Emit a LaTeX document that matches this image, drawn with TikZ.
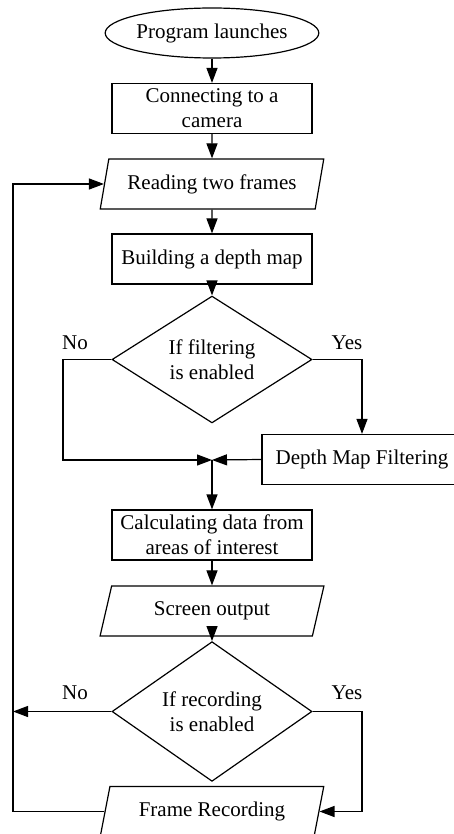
\documentclass[tikz,border=0pt]{standalone}
\usepackage{fontspec}
\setmainfont{Liberation Serif}
\usetikzlibrary{shapes.geometric,arrows.meta}
\begin{document}
\begin{tikzpicture}[x=1pt,y=-1pt,
  line width=1.2pt,
  arr/.style={-{Triangle[length=15pt,width=11pt]}},
  txt/.style={font=\fontsize{21}{25}\selectfont, align=center},
  base/.style={txt, draw, inner sep=0pt},
  proc/.style={base, rectangle, minimum width=200pt, minimum height=50pt},
  term/.style={base, ellipse, minimum width=200pt, minimum height=50pt},
  io/.style={base, trapezium, trapezium left angle=70, trapezium right angle=110,
    trapezium stretches=true, minimum width=224pt, minimum height=50pt},
  dec/.style={base, diamond, minimum width=200pt, minimum height=100pt},
  lbl/.style={txt, inner sep=0pt}
]
\useasboundingbox (0,0) rectangle (453,834);
\node[term] (pl) at (212,33) {Program launches};
\node[proc] (cc) at (212,108.5) {Connecting to a\\camera};
\node[io] (rd) at (212,184) {Reading two frames};
\node[proc] (bd) at (212,259) {Building a depth map};
\node[dec] (df) at (212,359.5) {If filtering\\is enabled};
\node[proc] (dmf) at (362,459.5) {Depth Map Filtering};
\node[proc] (cd) at (212,535) {Calculating data from\\areas of interest};
\node[io] (so) at (212,611) {Screen output};
\node[dec] (dr) at (212,711.5) {If recording\\is enabled};
\node[io] (fr) at (212,811.5) {Frame Recording};
\node[lbl] (no1) at (75,343) {No};
\node[lbl] (yes1) at (347,343) {Yes};
\node[lbl] (no2) at (75,693) {No};
\node[lbl] (yes2) at (347,693) {Yes};
\coordinate (j) at (212,460);
\coordinate (lp) at (13,711.5);

\draw[arr] (pl) -- (cc);
\draw[arr] (cc) -- (rd);
\draw[arr] (rd) -- (bd);
\draw[arr] (bd) -- (df);
\draw[arr] (df.west) -- (63,359.5) -- (63,460) -- (j);
\draw[arr] (df.east) -- (362,359.5) -- (dmf.north);
\draw[arr] (dmf.west) -- (j);
\draw[arr] (j) -- (cd.north);
\draw[arr] (cd) -- (so);
\draw[arr] (so) -- (dr);
\draw[arr] (dr.west) -- (lp);
\draw[arr] (dr.east) -- (362,711.5) |- (fr.right side);
\draw[arr] (fr.left side) -- (13,811.5) |- (rd.left side);
\end{tikzpicture}
\end{document}
